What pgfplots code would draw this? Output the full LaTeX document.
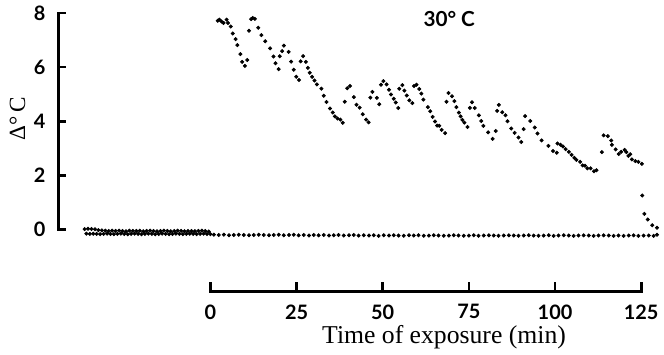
\documentclass[border=0pt]{standalone}
\usepackage{pgfplots}
\pgfplotsset{compat=1.18}
\usepackage{fontspec}
\newfontfamily\tickfont{Lato}
\newfontfamily\serifont{Liberation Serif}
\tikzset{
  tickfnt/.style={font=\tickfont\bfseries\fontsize{12}{14}\selectfont},
}
\begin{document}
\begin{tikzpicture}
% y axis drawn as filled bars
\fill[black] (-0.8pt,-0.8pt) rectangle (0.8pt,131.6pt);
\foreach \yy in {0,32.7,65.4,98.1,130.8}
  \fill[black] (0pt,\yy pt-0.8pt) rectangle (4.5pt,\yy pt+0.8pt);
% x axis drawn as filled bars
\fill[black] (90.7pt,-38pt) rectangle (352.3pt,-36.4pt);
\foreach \xx in {91.5,143.5,195.5,247.5,299.5,351.5}
  \fill[black] (\xx pt-0.8pt,-37.2pt) rectangle (\xx pt+0.8pt,-31.7pt);
\begin{axis}[
  at={(0,0)}, anchor=south west,
  scale only axis, width=361.9pt, height=130.8pt,
  xmin=-44, xmax=130, ymin=0, ymax=8,
  axis lines=none,
  clip=false,
]
\path (axis cs:-61.06,-4.51) rectangle (axis cs:130.5,8.44);
% y tick labels
\node[tickfnt, anchor=east, xshift=-4.5pt] at (axis cs:-44,0) {0};
\node[tickfnt, anchor=east, xshift=-4.5pt] at (axis cs:-44,2) {2};
\node[tickfnt, anchor=east, xshift=-4.5pt] at (axis cs:-44,4) {4};
\node[tickfnt, anchor=east, xshift=-4.5pt] at (axis cs:-44,6) {6};
\node[tickfnt, anchor=east, xshift=-4.5pt] at (axis cs:-44,8) {8};
% x tick labels
\node[tickfnt, anchor=north, yshift=-4.5pt] at (axis cs:0,-2.275) {0};
\node[tickfnt, anchor=north, yshift=-4.5pt] at (axis cs:25,-2.275) {25};
\node[tickfnt, anchor=north, yshift=-4.5pt] at (axis cs:50,-2.275) {50};
\node[tickfnt, anchor=north, yshift=-4.5pt] at (axis cs:75,-2.275) {75};
\node[tickfnt, anchor=north, yshift=-4.5pt] at (axis cs:100,-2.275) {100};
\node[tickfnt, anchor=north, yshift=-4.5pt] at (axis cs:125,-2.275) {125};
% axis titles
\node[font=\serifont\fontsize{15.5}{17}\selectfont, anchor=center] at (axis cs:67.8,-3.99) {Time of exposure (min)};
\node[font=\serifont\fontsize{14}{16}\selectfont, anchor=center, rotate=90] at (axis cs:-56,4.08) {Δ°\,C};
\node[font=\tickfont\bfseries\fontsize{12.5}{14}\selectfont] at (axis cs:69.3,7.78) {30° C};
% upper series
\addplot[only marks, mark=*, mark size=1.0pt, black] coordinates {
(2.1,7.71)(2.6,7.75)(3.2,7.68)(3.8,7.63)(4.7,7.75)(5.1,7.63)(5.9,7.50)(6.5,7.24)(7.3,7.03)(7.8,6.81)
(8.7,6.48)(9.2,6.19)(10.0,6.04)(10.7,6.26)(11.2,7.34)(11.8,7.77)(12.3,7.81)(12.9,7.78)(13.9,7.45)(14.8,7.18)
(15.9,6.95)(17.3,6.69)(18.3,6.39)(18.9,6.14)(19.8,5.92)(20.1,6.40)(20.8,6.59)(21.3,6.79)(22.7,6.56)(23.4,6.20)
(24.2,5.90)(24.9,5.64)(25.7,5.52)(26.2,6.21)(26.9,6.40)(27.7,6.19)(28.3,5.97)(28.8,5.79)(29.5,5.64)(30.2,5.50)
(30.9,5.36)(32.2,5.20)(32.9,4.94)(33.7,4.71)(34.7,4.47)(35.5,4.32)(36.1,4.18)(36.9,4.10)(37.7,4.06)(38.4,3.94)
(39.0,4.72)(39.7,5.22)(40.5,5.30)(41.6,4.89)(42.4,4.61)(43.3,4.50)(44.2,4.26)(45.2,4.06)(45.9,3.96)(46.4,4.87)
(47.0,5.08)(48.3,4.86)(49.0,4.63)(49.5,5.35)(50.2,5.48)(51.1,5.36)(51.8,5.16)(52.4,4.99)(53.2,4.83)(53.8,4.69)
(54.5,4.49)(54.8,5.20)(55.7,5.33)(56.3,5.13)(57.0,4.95)(57.7,4.77)(58.6,4.67)(59.1,5.30)(59.8,5.35)(60.6,5.19)
(61.2,5.02)(61.8,4.80)(63.1,4.52)(63.8,4.37)(64.5,4.16)(65.2,3.99)(65.8,3.84)(66.4,3.83)(67.1,3.68)(68.1,3.56)
(68.5,4.72)(69.1,5.04)(70.1,4.92)(70.8,4.74)(71.4,4.52)(72.1,4.32)(72.6,4.18)(73.1,4.05)(73.7,3.95)(74.6,3.79)
(75.3,4.49)(75.9,4.70)(76.7,4.49)(77.9,4.22)(78.6,4.01)(79.2,3.83)(80.6,3.59)(81.9,3.35)(82.8,3.64)(83.2,4.38)
(83.7,4.60)(84.7,4.33)(85.6,4.22)(86.2,4.00)(87.3,3.73)(88.3,3.57)(89.4,3.40)(90.2,3.23)(90.9,3.71)(91.3,4.19)
(92.8,4.01)(94.1,3.77)(94.9,3.55)(96.1,3.29)(98.1,3.09)(99.4,2.90)(100.5,2.84)(100.7,3.18)(101.6,3.13)(102.3,3.07)
(103.1,2.97)(104.0,2.87)(104.8,2.76)(105.6,2.65)(106.2,2.57)(107.3,2.50)(108.0,2.37)(108.7,2.36)(109.4,2.26)(110.3,2.26)
(111.3,2.15)(112.0,2.19)(113.6,2.86)(114.1,3.48)(115.3,3.45)(116.3,3.29)(116.5,3.13)(117.6,2.96)(118.5,2.79)(119.2,2.87)
(120.2,2.94)(120.7,2.86)(121.3,2.72)(121.8,2.78)(122.3,2.59)(123.3,2.53)(124.2,2.50)(125.2,2.43)(125.3,1.26)(125.9,0.58)
(126.9,0.37)(128.2,0.16)(129.6,0.07)
};
% baseline, dense early part
\addplot[only marks, mark=*, mark size=1.0pt, black] coordinates {
(-36.5,0.02)(-35.5,0.03)(-34.5,0.02)(-33.5,0.01)(-32.5,-0.02)(-31.5,-0.03)(-30.5,-0.04)(-29.5,-0.05)(-28.5,-0.04)(-27.5,-0.05)
(-26.5,-0.04)(-25.5,-0.05)(-24.5,-0.06)(-23.5,-0.04)(-22.5,-0.05)(-21.5,-0.05)(-20.5,-0.04)(-19.5,-0.06)(-18.5,-0.05)(-17.5,-0.04)
(-16.5,-0.05)(-15.5,-0.06)(-14.5,-0.05)(-13.5,-0.04)(-12.5,-0.05)(-11.5,-0.06)(-10.5,-0.05)(-9.5,-0.04)(-8.5,-0.05)(-7.5,-0.06)
(-6.5,-0.05)(-5.5,-0.05)(-4.5,-0.06)(-3.5,-0.05)(-2.5,-0.04)(-1.5,-0.05)(-0.5,-0.07)
(-36.0,-0.15)(-35.0,-0.16)(-34.0,-0.15)(-33.0,-0.16)(-32.0,-0.17)(-31.0,-0.16)(-30.0,-0.15)(-29.0,-0.16)(-28.0,-0.17)(-27.0,-0.16)
(-26.0,-0.15)(-25.0,-0.16)(-24.0,-0.17)(-23.0,-0.16)(-22.0,-0.15)(-21.0,-0.16)(-20.0,-0.17)(-19.0,-0.16)(-18.0,-0.15)(-17.0,-0.16)
(-16.0,-0.17)(-15.0,-0.16)(-14.0,-0.15)(-13.0,-0.16)(-12.0,-0.17)(-11.0,-0.16)(-10.0,-0.15)(-9.0,-0.16)(-8.0,-0.17)(-7.0,-0.16)
(-6.0,-0.15)(-5.0,-0.16)(-4.0,-0.17)(-3.0,-0.16)(-2.0,-0.15)(-1.0,-0.16)(0.0,-0.17)
};
% baseline, later part
\addplot[only marks, mark=*, mark size=1.0pt, black] coordinates {
(1.0,-0.19)(2.4,-0.20)(3.9,-0.19)(5.4,-0.21)(6.8,-0.20)(8.2,-0.19)(9.7,-0.20)(11.2,-0.21)(12.6,-0.20)(14.0,-0.19)
(15.5,-0.20)(17.0,-0.21)(18.4,-0.20)(19.8,-0.19)(21.3,-0.21)(22.8,-0.20)(24.2,-0.19)(25.6,-0.21)(27.1,-0.20)(28.6,-0.22)
(30.0,-0.20)(31.4,-0.21)(32.9,-0.20)(34.4,-0.22)(35.8,-0.21)(37.2,-0.20)(38.7,-0.22)(40.2,-0.21)(41.6,-0.20)(43.0,-0.22)
(44.5,-0.21)(46.0,-0.22)(47.4,-0.21)(48.8,-0.23)(50.3,-0.21)(51.8,-0.22)(53.2,-0.21)(54.6,-0.22)(56.1,-0.23)(57.6,-0.21)
(59.0,-0.22)(60.4,-0.21)(61.9,-0.23)(63.4,-0.22)(64.8,-0.21)(66.2,-0.22)(67.7,-0.23)(69.2,-0.22)(70.6,-0.21)(72.0,-0.22)
(73.5,-0.23)(75.0,-0.22)(76.4,-0.21)(77.8,-0.23)(79.3,-0.22)(80.8,-0.21)(82.2,-0.22)(83.6,-0.23)(85.1,-0.22)(86.6,-0.21)
(88.0,-0.22)(89.4,-0.23)(90.9,-0.22)(92.4,-0.21)(93.8,-0.22)(95.2,-0.23)(96.7,-0.22)(98.2,-0.21)(99.6,-0.23)(101.0,-0.22)
(102.5,-0.21)(104.0,-0.22)(105.4,-0.23)(106.8,-0.22)(108.3,-0.21)(109.8,-0.22)(111.2,-0.23)(112.6,-0.22)(114.1,-0.21)(115.6,-0.22)
(117.0,-0.23)(118.4,-0.22)(119.9,-0.23)(121.4,-0.22)(122.8,-0.21)(124.2,-0.23)(125.7,-0.22)(127.2,-0.22)(128.6,-0.23)(129.6,-0.19)
};
\end{axis}
\end{tikzpicture}
\end{document}
